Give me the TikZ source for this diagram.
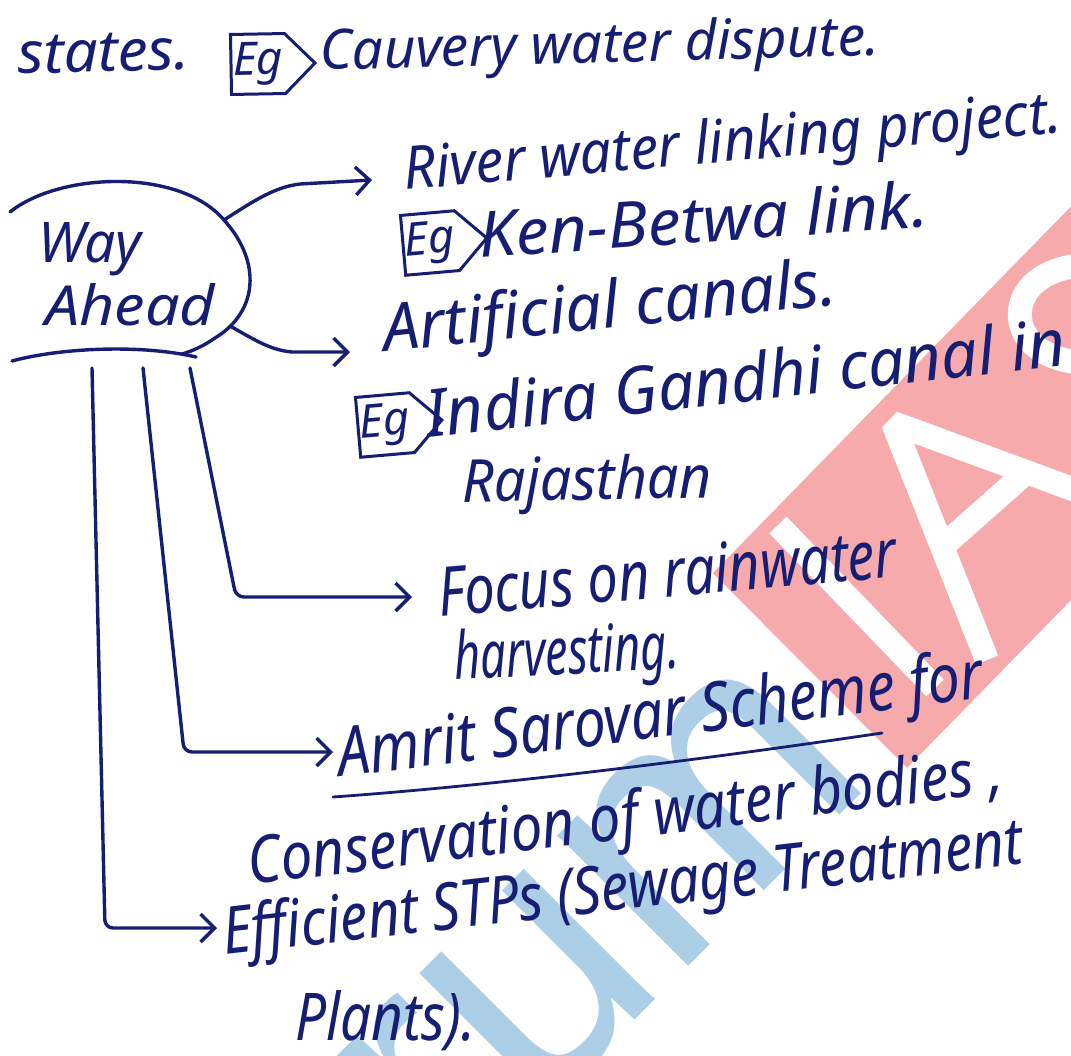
\documentclass[tikz,border=0pt]{standalone}
\usepackage{fontspec}
\setmainfont{Noto Sans}
\newfontfamily\logofont{Liberation Sans}
\usetikzlibrary{arrows.meta,shapes.symbols}
\definecolor{ink}{RGB}{22,30,115}
\definecolor{wmred}{RGB}{247,170,171}
\definecolor{wmblue}{RGB}{172,207,231}
\newcommand{\hw}[3]{\resizebox{#1pt}{#2pt}{\itshape #3}}
\begin{document}
\begin{tikzpicture}[x=1pt,y=-1pt,
  hw/.style={text=ink, inner sep=0pt, anchor=base west},
  conn/.style={draw=ink, line width=3.4pt, line cap=round, line join=round},
  arr/.style={-{Straight Barb[length=14pt,width=28pt]}},
  egmark/.style={shape=signal, signal to=east, draw=ink, line width=3pt, text=ink,
    minimum width=84pt, minimum height=60pt, inner sep=1pt,
    font=\itshape\fontsize{46}{46}\selectfont},
  wmletter/.style={draw=white, line width=24pt, line cap=butt, line join=bevel},
  wm/.style={inner sep=0pt, rotate=45}]
\fill[white] (0,0) rectangle (1071,1055);
\useasboundingbox (0,0) rectangle (1071,1055);
% watermark
\begin{scope}
\clip (0,0) rectangle (1071,1055);
\fill[wmred] (713,573) -- (907,768) -- (1326,339) -- (1132,144) -- cycle;
% white letters I, A, S of the watermark
\draw[wmletter] (778,525) -- (935,688);
\draw[wmletter] (987,660) -- (893,423) -- (1135,512);
\draw[wmletter] (943,546) -- (1022,476);
\draw[wmletter] (1075,266) .. controls (1035,272) and (1018,295) .. (1020,318)
  .. controls (1022,342) and (1045,358) .. (1075,362);
\node[wm, anchor=base east, text=wmblue, font=\logofont\fontsize{350}{350}\selectfont] (forum) at (878,777) {Forum};
\end{scope}
% top line
\node[hw, rotate=1.5] (states) at (18,74) {\hw{172}{38}{states.}};
\node[egmark, rotate=1] (eg0) at (258,64) {Eg};
\node[hw, rotate=1.5] (cauvery) at (320,70) {\hw{560}{42}{Cauvery water dispute.}};
% Way Ahead
\node[hw] (way) at (38,262) {\hw{103}{40}{Way}};
\node[hw] (ahead) at (45,325) {\hw{170}{42}{Ahead}};
\draw[conn] (10,212) .. controls (60,172) and (180,168) .. (224,220)
  .. controls (262,262) and (258,312) .. (215,338)
  .. controls (202,347) and (192,351) .. (182,354);
\draw[conn] (12,361) .. controls (60,348) and (140,344) .. (196,357);
% branch texts
\node[hw, rotate=5] (river) at (405,190) {\hw{660}{45}{River water linking project.}};
\node[egmark, rotate=5] (eg1) at (430,243) {Eg};
\node[hw, rotate=4] (ken) at (480,258) {\hw{450}{48}{Ken-Betwa link.}};
\node[hw, rotate=6] (canals) at (385,352) {\hw{455}{50}{Artificial canals.}};
\node[egmark, rotate=5] (eg2) at (385,425) {Eg};
\node[hw, rotate=6.5] (indira) at (428,438) {\hw{643}{50}{Indira Gandhi canal in}};
\node[hw, rotate=1] (raj) at (462,502) {\hw{250}{45}{Rajasthan}};
\node[hw, rotate=5] (focus) at (440,617) {\hw{460}{50}{Focus on rainwater}};
\node[hw, rotate=3] (harv) at (455,680) {\hw{225}{50}{harvesting.}};
\node[hw, rotate=7] (amrit) at (340,777) {\hw{650}{52}{Amrit Sarovar Scheme for}};
\node[hw, rotate=7] (cons) at (250,885) {\hw{760}{50}{Conservation of water bodies ,}};
\node[hw, rotate=6.5] (eff) at (225,955) {\hw{805}{50}{Efficient STPs (Sewage Treatment}};
\node[hw] (plants) at (295,1040) {\hw{180}{50}{Plants).}};
\draw[conn, line width=2.8pt] (333,797) .. controls (500,785) and (700,760) .. (882,733);
% connectors
\coordinate (a1s) at (224,220); \coordinate (a1e) at (372,180);
\coordinate (a2s) at (230,326); \coordinate (a2e) at (350,352);
\coordinate (a3s) at (190,368); \coordinate (a3e) at (412,597);
\coordinate (a4s) at (143,368); \coordinate (a4e) at (333,752);
\coordinate (a5s) at (92,368);  \coordinate (a5e) at (217,928);
\draw[conn, arr] (a1s) .. controls (255,200) and (275,187) .. (300,184) -- (a1e);
\draw[conn, arr] (a2s) .. controls (255,340) and (270,350) .. (292,352) -- (a2e);
\draw[conn, arr, rounded corners=8pt] (a3s) -- (236,597) -- (a3e);
\draw[conn, arr, rounded corners=8pt] (a4s) -- (184,752) -- (a4e);
\draw[conn, arr, rounded corners=8pt] (a5s) -- (105,928) -- (a5e);
\end{tikzpicture}
\end{document}
